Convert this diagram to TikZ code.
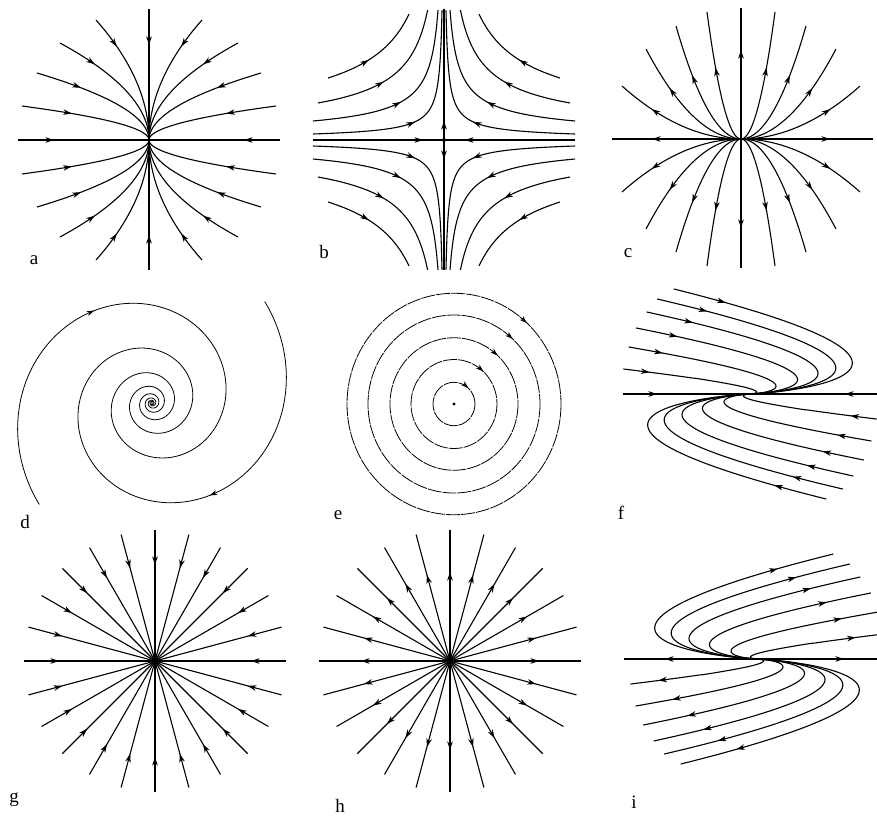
\documentclass[tikz,border=0pt]{standalone}
\usepackage{fontspec}
\setmainfont{Liberation Serif}
\usetikzlibrary{arrows.meta}

\begin{document}
\begin{tikzpicture}[x=1pt,y=-1pt,
  flow/.style={line width=1.1pt},
  thinflow/.style={line width=0.8pt},
  flowtip/.style={-{Stealth[length=8.5pt,width=5.5pt,inset=2.5pt]},line width=1.1pt},
  thintip/.style={-{Stealth[length=7.5pt,width=5pt,inset=2.2pt]},line width=0.8pt},
  plabel/.style={font=\fontsize{19}{21}\selectfont,inner sep=0pt},
  declare function={
    degv(\t,\s)=\s*(1-\t)+0.02;
    degx(\t,\s,\m)=3.3*degv(\t,\s)*(1+ln(\m/degv(\t,\s)));
    sadd(\t,\p,\q)=\p*exp(\t*ln(\q/\p));
    spr(\p)=132*exp(-0.003316*\p);
  }]
\useasboundingbox (0,0) rectangle (877,817);
% a: stable node
\begin{scope}[shift={(149,140)}]
  \draw[flow] (-131,0) -- (131,0);
  \draw[flow] (0,-131) -- (0,130);
  \draw[flowtip] (-98,0) -- (-95,0);
  \draw[flowtip] (98,0) -- (95,0);
  \draw[flowtip] (0,-98) -- (0,-95);
  \draw[flowtip] (0,98) -- (0,95);
  \foreach \ex/\ey in {53/120,89/97,112/67,127/34}{
    \foreach \sx in {-1,1}{
      \foreach \sy in {-1,1}{
        \draw[flow] plot[domain=0:1,samples=40] ({\sx*\ex*\x*\x},{\sy*\ey*\x});
        \draw[flowtip] ({\sx*\ex*0.8*0.8},{\sy*\ey*0.8}) -- ({\sx*\ex*0.78*0.78},{\sy*\ey*0.78});
      }
    }
  }
\end{scope}
% b: saddle
\begin{scope}[shift={(444,140)}]
  \draw[flow] (-131,0) -- (131,0);
  \draw[flow] (0,-131) -- (0,130);
  \fill (0,0) circle (2);
  \draw[flowtip] (-25,0) -- (-21,0);
  \draw[flowtip] (25,0) -- (21,0);
  \draw[flowtip] (0,-15) -- (0,-19);
  \draw[flowtip] (0,15) -- (0,19);
  \foreach \xl/\yl/\xt/\yt in {116/62/35/126,126/37/16/130,131/19/6/130,131/6/2/130}{
    \foreach \sx in {-1,1}{
      \foreach \sy in {-1,1}{
        \draw[flow] plot[domain=0:1,samples=80] ({\sx*sadd(\x,\xl,\xt)},{\sy*sadd(\x,\yl,\yt)});
        \draw[flowtip] ({\sx*sadd(0.33,\xl,\xt)},{\sy*sadd(0.33,\yl,\yt)}) -- ({\sx*sadd(0.36,\xl,\xt)},{\sy*sadd(0.36,\yl,\yt)});
      }
    }
  }
\end{scope}
% c: unstable node
\begin{scope}[shift={(741,139)}]
  \draw[flow] (-129,0) -- (132,0);
  \draw[flow] (0,-131) -- (0,129);
  \draw[flowtip] (-86,0) -- (-89,0);
  \draw[flowtip] (86,0) -- (89,0);
  \draw[flowtip] (0,-86) -- (0,-89);
  \draw[flowtip] (0,86) -- (0,89);
  \foreach \ex/\ey in {34/127,65/113,95/90,119/53}{
    \foreach \sx in {-1,1}{
      \foreach \sy in {-1,1}{
        \draw[flow] plot[domain=0:1,samples=40] ({\sx*\ex*\x},{\sy*\ey*\x*\x});
        \draw[flowtip] ({\sx*\ex*0.73},{\sy*\ey*0.73*0.73}) -- ({\sx*\ex*0.75},{\sy*\ey*0.75*0.75});
      }
    }
  }
\end{scope}
% d: stable focus
\begin{scope}[shift={(152,403)}]
  \foreach \rot in {0,180}{
    \draw[thinflow] plot[domain=-42:1500,samples=500] ({spr(\x)*cos(\x+\rot)},{spr(\x)*sin(\x+\rot)});
    \draw[thintip] ({spr(55)*cos(55+\rot)},{spr(55)*sin(55+\rot)}) -- ({spr(58)*cos(58+\rot)},{spr(58)*sin(58+\rot)});
  }
\end{scope}
% e: centre
\begin{scope}[shift={(454,404)}]
  \foreach \r in {21,43,64,86,107}{
    \draw[thinflow,dash pattern=on 14pt off 1pt] (0,0) ellipse [x radius=\r,y radius=1.035*\r];
    \draw[thintip] ({\r*cos(-51)},{1.035*\r*sin(-51)}) -- ({\r*cos(-47)},{1.035*\r*sin(-47)});
  }
  \fill (0,0) circle (1.6);
\end{scope}
% f: degenerate node, stable
\begin{scope}[shift={(750,394)}]
  \draw[flow] (-127,0) -- (127,0);
  \draw[flowtip] (-96,0) -- (-93,0);
  \draw[flowtip] (98,0) -- (95,0);
  \foreach \vs/\vt in {105/31,95/26,82/20.6,66/14.4,47/7.87,25/1.97}{
    \draw[flow] plot[domain=0:1,samples=200] ({degx(\x,\vs,\vt)},{-degv(\x,\vs)});
    \draw[flow] plot[domain=0:1,samples=200] ({-degx(\x,\vs,\vt)},{degv(\x,\vs)});
    \draw[flowtip] ({degx(0.11,\vs,\vt)},{-degv(0.11,\vs)}) -- ({degx(0.13,\vs,\vt)},{-degv(0.13,\vs)});
    \draw[flowtip] ({-degx(0.11,\vs,\vt)},{degv(0.11,\vs)}) -- ({-degx(0.13,\vs,\vt)},{degv(0.13,\vs)});
  }
\end{scope}
% g: stable star
\begin{scope}[shift={(155,661)}]
  \foreach \a in {0,15,...,345}{
    \draw[flow] (0,0) -- (\a:131);
    \draw[flowtip] (\a:99) -- (\a:96);
  }
\end{scope}
% h: unstable star
\begin{scope}[shift={(450,661)}]
  \foreach \a in {0,15,...,345}{
    \draw[flow] (0,0) -- (\a:131);
    \draw[flowtip] (\a:86) -- (\a:89);
  }
\end{scope}
% i: degenerate node, unstable
\begin{scope}[shift={(757,659)},xscale=-1]
  \draw[flow] (133,0) -- (-120,0);
  \draw[flowtip] (89,0) -- (92,0);
  \draw[flowtip] (-84,0) -- (-87,0);
  \foreach \vs/\vt in {105/31,95/26,82/20.6,66/14.4,47/7.87,25/1.97}{
    \draw[flow] plot[domain=0:1,samples=200] ({degx(\x,\vs,\vt)},{-degv(\x,\vs)});
    \draw[flow] plot[domain=0:1,samples=200] ({-degx(\x,\vs,\vt)},{degv(\x,\vs)});
    \draw[flowtip] ({degx(0.16,\vs,\vt)},{-degv(0.16,\vs)}) -- ({degx(0.14,\vs,\vt)},{-degv(0.14,\vs)});
    \draw[flowtip] ({-degx(0.16,\vs,\vt)},{degv(0.16,\vs)}) -- ({-degx(0.14,\vs,\vt)},{degv(0.14,\vs)});
  }
\end{scope}
% Labels
\node[plabel] (la) at (34,260) {a};
\node[plabel] (lb) at (324,252) {b};
\node[plabel] (lc) at (628,253) {c};
\node[plabel] (ld) at (25,522) {d};
\node[plabel] (le) at (338,515) {e};
\node[plabel] (lf) at (621,513) {f};
\node[plabel] (lg) at (14,800) {g};
\node[plabel] (lh) at (340,806) {h};
\node[plabel] (li) at (634,802) {i};
\end{tikzpicture}
\end{document}
